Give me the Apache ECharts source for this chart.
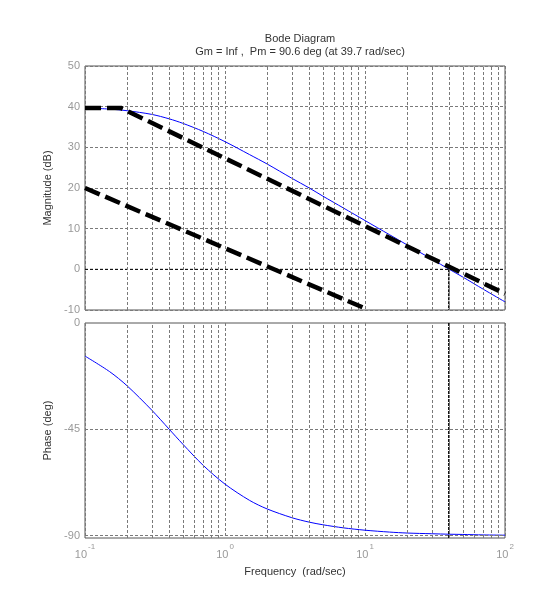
<!DOCTYPE html>
<html>
<head>
<meta charset="utf-8">
<script src="https://cdn.jsdelivr.net/npm/echarts@6/dist/echarts.min.js"></script>
<style>
  html, body { margin: 0; padding: 0; background: #fff; }
  #chart { width: 558px; height: 606px; }
</style>
</head>
<body>
<div id="chart"></div>
<script>
// frequency samples (rad/sec)
var freq = [0.1, 0.15, 0.2, 0.3, 0.4, 0.5, 0.7, 1, 1.5, 2, 3, 4, 5, 7, 10, 15, 20, 30, 40, 50, 70, 100];
var magDb = [39.7, 39.4, 39.0, 38.1, 37.0, 35.9, 33.9, 31.4, 28.2, 25.9, 22.4, 20.0, 18.0, 15.1, 12.0, 8.5, 6.0, 2.5, 0.0, -1.9, -4.9, -8.0];
var phaseDeg = [-14.0, -20.6, -26.6, -36.9, -45.0, -51.3, -60.3, -68.2, -75.1, -78.7, -82.4, -84.3, -85.4, -86.7, -87.7, -88.5, -88.9, -89.2, -89.4, -89.5, -89.7, -89.8];

// straight-line asymptotes (black dashed)
var asymHigh = [[0.1, 39.7], [0.18, 39.7], [100, -6.0]];
var asymLow = [[0.1, 20], [10, -9.6]];

// crossover frequency
var wc = 39.7;

// minor grid frequencies
var minorFreqs = [0.2, 0.3, 0.4, 0.5, 0.6, 0.7, 0.8, 0.9,
                  2, 3, 4, 5, 6, 7, 8, 9,
                  20, 30, 40, 50, 60, 70, 80, 90];
var phaseTicks = [-90, -45, 0];

var FONT = 'Liberation Sans, Arial, sans-serif';
var gridLine = { color: '#7a7a7a', type: [3, 2], width: 1 };

function pairs(xs, ys) {
    var out = [];
    for (var i = 0; i < xs.length; i++) {
        out.push([xs[i], ys[i]]);
    }
    return out;
}

function gridMarks(extraY) {
    var d = [];
    for (var i = 0; i < minorFreqs.length; i++) {
        d.push({ xAxis: minorFreqs[i] });
    }
    for (var j = 0; j < extraY.length; j++) {
        d.push({ yAxis: extraY[j] });
    }
    return {
        silent: true,
        symbol: ['none', 'none'],
        label: { show: false },
        lineStyle: gridLine,
        emphasis: { disabled: true },
        animation: false,
        data: d
    };
}

var chart = echarts.init(document.getElementById('chart'));

var xBase = {
    type: 'log',
    logBase: 10,
    min: 0.1,
    max: 100,
    axisLine: { show: false },
    axisTick: { show: false },
    splitLine: { show: true, lineStyle: gridLine }
};

var option = {
    animation: false,
    textStyle: { fontFamily: FONT },
    title: {
        text: 'Bode Diagram',
        subtext: 'Gm = Inf ,  Pm = 90.6 deg (at 39.7 rad/sec)',
        left: 295,
        top: 27,
        textAlign: 'center',
        itemGap: 0,
        textStyle: { fontSize: 11, fontWeight: 'normal', color: '#333', fontFamily: FONT, lineHeight: 13 },
        subtextStyle: { fontSize: 11, color: '#333', fontFamily: FONT, lineHeight: 13 }
    },
    grid: [
        { left: 85, right: 53, top: 66, height: 244, show: true, borderColor: '#555', borderWidth: 1, backgroundColor: 'transparent' },
        { left: 85, right: 53, top: 323, height: 215, show: true, borderColor: '#555', borderWidth: 1, backgroundColor: 'transparent' }
    ],
    xAxis: [
        Object.assign({}, xBase, { gridIndex: 0, axisLabel: { show: false } }),
        Object.assign({}, xBase, {
            gridIndex: 1,
            name: 'Frequency  (rad/sec)',
            nameLocation: 'middle',
            nameGap: 28,
            nameTextStyle: { fontSize: 11, color: '#333', fontFamily: FONT },
            axisLabel: {
                margin: 5,
                color: '#999',
                formatter: function (v) {
                    return '{a|10}{b|' + Math.round(Math.log10(v)) + '}';
                },
                rich: {
                    a: { fontSize: 11, color: '#999', fontFamily: FONT, padding: [4, 0, 0, 0] },
                    b: { fontSize: 8, color: '#999', fontFamily: FONT, padding: [0, 0, 11, 1] }
                }
            }
        })
    ],
    yAxis: [
        {
            gridIndex: 0,
            type: 'value',
            min: -10,
            max: 50,
            interval: 10,
            name: 'Magnitude (dB)',
            nameLocation: 'middle',
            nameGap: 27,
            nameTextStyle: { fontSize: 11, color: '#333', fontFamily: FONT },
            axisLine: { show: false },
            axisTick: { show: false },
            axisLabel: { color: '#999', fontSize: 11, margin: 5, fontFamily: FONT },
            splitLine: { show: true, lineStyle: gridLine }
        },
        {
            gridIndex: 1,
            type: 'value',
            min: -91,
            max: 0,
            name: 'Phase (deg)',
            nameLocation: 'middle',
            nameGap: 27,
            nameTextStyle: { fontSize: 11, color: '#333', fontFamily: FONT },
            axisLine: { show: false },
            axisTick: { show: false },
            axisLabel: { color: '#999', fontSize: 11, margin: 5, fontFamily: FONT, customValues: phaseTicks },
            splitLine: { show: false }
        }
    ],
    series: [
        {
            type: 'line',
            xAxisIndex: 0,
            yAxisIndex: 0,
            data: pairs(freq, magDb),
            smooth: 0.3,
            showSymbol: false,
            lineStyle: { color: '#0000ff', width: 1 },
            z: 3,
            markLine: gridMarks([])
        },
        {
            type: 'line',
            xAxisIndex: 0,
            yAxisIndex: 0,
            data: [[0.1, 0], [100, 0]],
            showSymbol: false,
            lineStyle: { color: '#000', width: 1, type: [3, 2] },
            z: 4
        },
        {
            type: 'line',
            xAxisIndex: 0,
            yAxisIndex: 0,
            data: [[wc, 0], [wc, -10]],
            showSymbol: false,
            lineStyle: { color: '#000', width: 1.5, type: [3, 1] },
            z: 4
        },
        {
            type: 'line',
            xAxisIndex: 0,
            yAxisIndex: 0,
            data: asymHigh,
            showSymbol: false,
            lineStyle: { color: '#000', width: 4.5, type: [16, 6], cap: 'butt' },
            z: 5
        },
        {
            type: 'line',
            xAxisIndex: 0,
            yAxisIndex: 0,
            data: asymLow,
            showSymbol: false,
            lineStyle: { color: '#000', width: 4.5, type: [16, 6], cap: 'butt' },
            z: 5
        },
        {
            type: 'line',
            xAxisIndex: 1,
            yAxisIndex: 1,
            data: pairs(freq, phaseDeg),
            smooth: 0.3,
            showSymbol: false,
            lineStyle: { color: '#0000ff', width: 1 },
            z: 3,
            markLine: gridMarks([-45, -90])
        },
        {
            type: 'line',
            xAxisIndex: 1,
            yAxisIndex: 1,
            data: [[wc, 0], [wc, -91]],
            showSymbol: false,
            lineStyle: { color: '#000', width: 1.5, type: [3, 1] },
            z: 4
        }
    ]
};

chart.setOption(option);
</script>
</body>
</html>
